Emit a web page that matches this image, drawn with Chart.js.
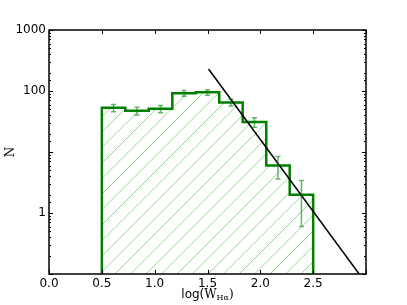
<!DOCTYPE html>
<html>
<head>
<meta charset="utf-8">
<script src="https://cdn.jsdelivr.net/npm/chart.js@4/dist/chart.umd.min.js"></script>
<style>
  html, body { margin: 0; padding: 0; background: #fff; overflow: hidden; }
  #wrap { width: 407px; height: 305px; }
</style>
</head>
<body>
<div id="wrap"><canvas id="histChart"></canvas></div>
<script>
// ===== DATA =====
const binEdges = [0.5, 0.722, 0.944, 1.167, 1.389, 1.611, 1.833, 2.056, 2.278, 2.5];
const counts   = [53, 47.5, 51, 92, 95, 65, 31, 6, 2];
const countErr = [7.3, 6.9, 7.1, 9.6, 9.7, 8.1, 5.6, 2.4, 1.4];
const fitX = [1.51, 2.935];
const fitY = [230, 0.1];
const yLabelled = [1, 100, 1000];
const xMin = 0, xMax = 3, xStep = 0.5;
const yMin = 0.1, yMax = 1000;

// histogram outline as step points
const histPts = [{ x: binEdges[0], y: yMin }];
counts.forEach((c, i) => histPts.push({ x: binEdges[i], y: c }));
histPts.push({ x: binEdges[binEdges.length - 1], y: counts[counts.length - 1] });
histPts.push({ x: binEdges[binEdges.length - 1], y: yMin });

const fitPts = fitX.map((x, i) => ({ x: x, y: fitY[i] }));

// ===== HATCH under the histogram =====
const hatch = {
  id: "hatch",
  beforeDatasetsDraw(chart) {
    const ctx = chart.ctx;
    const a = chart.chartArea;
    const xs = chart.scales.x, ys = chart.scales.y;
    ctx.save();
    ctx.beginPath();
    ctx.moveTo(xs.getPixelForValue(binEdges[0]), a.bottom);
    counts.forEach((c, i) => {
      const py = ys.getPixelForValue(c);
      ctx.lineTo(xs.getPixelForValue(binEdges[i]), py);
      ctx.lineTo(xs.getPixelForValue(binEdges[i + 1]), py);
    });
    ctx.lineTo(xs.getPixelForValue(binEdges[binEdges.length - 1]), a.bottom);
    ctx.closePath();
    ctx.clip();
    ctx.strokeStyle = "rgb(140,210,140)";
    ctx.lineWidth = 0.9;
    ctx.beginPath();
    const h = a.bottom - a.top;
    for (let x = a.left - h; x < a.right; x += 15.5) {
      ctx.moveTo(x, a.bottom);
      ctx.lineTo(x + h, a.top);
    }
    ctx.stroke();
    ctx.restore();
  }
};

// ===== FRAME, TICKS, ERRORBARS, LABELS =====
const decor = {
  id: "decor",
  afterDatasetsDraw(chart) {
    const ctx = chart.ctx;
    const a = chart.chartArea;
    const xs = chart.scales.x, ys = chart.scales.y;

    // error bars
    ctx.save();
    ctx.strokeStyle = "rgba(0,128,0,0.6)";
    ctx.lineWidth = 1.5;
    counts.forEach((c, i) => {
      const cx = xs.getPixelForValue((binEdges[i] + binEdges[i + 1]) / 2);
      const y1 = ys.getPixelForValue(c + countErr[i]);
      const y2 = ys.getPixelForValue(c - countErr[i]);
      ctx.beginPath();
      ctx.moveTo(cx, y1); ctx.lineTo(cx, y2);
      ctx.moveTo(cx - 2.5, y1); ctx.lineTo(cx + 2.5, y1);
      ctx.moveTo(cx - 2.5, y2); ctx.lineTo(cx + 2.5, y2);
      ctx.stroke();
    });
    ctx.restore();

    // frame
    ctx.save();
    ctx.strokeStyle = "#000";
    ctx.lineWidth = 1.5;
    ctx.strokeRect(a.left, a.top, a.right - a.left, a.bottom - a.top);

    // inward ticks
    ctx.lineWidth = 1;
    ctx.beginPath();
    xs.ticks.forEach(t => {
      const px = Math.round(xs.getPixelForValue(t.value)) + 0.5;
      ctx.moveTo(px, a.bottom); ctx.lineTo(px, a.bottom - 4);
      ctx.moveTo(px, a.top); ctx.lineTo(px, a.top + 4);
    });
    ys.ticks.forEach(t => {
      const py = Math.round(ys.getPixelForValue(t.value)) + 0.5;
      const lg = Math.log10(t.value);
      const len = Math.abs(lg - Math.round(lg)) < 1e-6 ? 4 : 2;
      ctx.moveTo(a.left, py); ctx.lineTo(a.left + len, py);
      ctx.moveTo(a.right, py); ctx.lineTo(a.right - len, py);
    });
    ctx.stroke();

    // axis labels
    ctx.fillStyle = "#000";
    ctx.textBaseline = "alphabetic";
    const base = 298;
    const parts = [
      { t: "log(", f: "12px 'DejaVu Sans'", dy: 0 },
      { t: "W", f: "12px 'DejaVu Serif'", dy: 0 },
      { t: "H\u03b1", f: "8px 'DejaVu Serif'", dy: 2 },
      { t: ")", f: "12px 'DejaVu Serif'", dy: 0 }
    ];
    let total = 0;
    parts.forEach(p => { ctx.font = p.f; p.w = ctx.measureText(p.t).width; total += p.w; });
    let x0 = (a.left + a.right) / 2 - total / 2;
    parts.forEach(p => {
      ctx.font = p.f;
      ctx.fillText(p.t, x0, base + p.dy);
      x0 += p.w;
    });

    ctx.translate(14, (a.top + a.bottom) / 2);
    ctx.rotate(-Math.PI / 2);
    ctx.font = "12px 'DejaVu Serif'";
    ctx.textAlign = "center";
    ctx.fillText("N", 0, 0);
    ctx.restore();
  }
};

new Chart(document.getElementById("histChart"), {
  type: "line",
  data: {
    datasets: [
      {
        data: fitPts,
        borderColor: "#000",
        borderWidth: 1.5,
        pointRadius: 0,
        fill: false,
        order: 0
      },
      {
        data: histPts,
        stepped: "before",
        borderColor: "#008000",
        borderWidth: 2.5,
        fill: false,
        pointRadius: 0,
        order: 1
      }
    ]
  },
  options: {
    animation: false,
    responsive: true,
    maintainAspectRatio: false,
    events: [],
    layout: { padding: { top: 30, right: 41, left: 0, bottom: 0 } },
    plugins: { legend: { display: false }, tooltip: { enabled: false } },
    scales: {
      x: {
        type: "linear",
        min: xMin, max: xMax,
        grid: { display: false, drawTicks: false },
        border: { display: false },
        ticks: {
          stepSize: xStep,
          padding: 3,
          color: "#000",
          font: { family: "DejaVu Sans", size: 12 },
          maxRotation: 0,
          callback: v => (v < xMax - 1e-6 ? v.toFixed(1) : "")
        },
        afterFit: s => { s.height = 31; }
      },
      y: {
        type: "logarithmic",
        min: yMin, max: yMax,
        grid: { display: false, drawTicks: false },
        border: { display: false },
        ticks: {
          padding: 3,
          color: "#000",
          font: { family: "DejaVu Sans", size: 12 },
          autoSkip: false,
          callback: v => (yLabelled.some(l => Math.abs(l - v) < 1e-9) ? String(v) : "")
        },
        afterFit: s => { s.width = 49; }
      }
    }
  },
  plugins: [hatch, decor]
});
</script>
</body>
</html>
